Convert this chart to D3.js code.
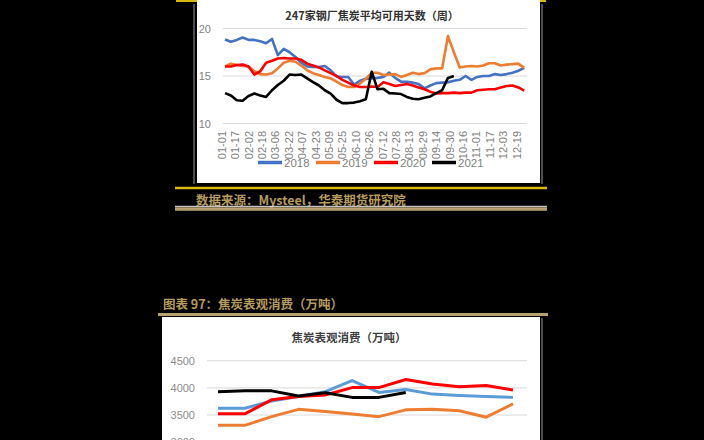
<!DOCTYPE html>
<html><head><meta charset="utf-8">
<script src="https://cdn.jsdelivr.net/npm/d3@7"></script>
<style>html,body{margin:0;padding:0;background:#000;overflow:hidden}svg{display:block}</style>
</head><body><svg id="c" width="704" height="440"></svg>
<script>
// ---------- data: chart 1 (weekly, 247 steel mills coke usable days) ----------
const tickLabels = ["01-01","01-17","02-02","02-18","03-06","03-22","04-07","04-23","05-09","05-25","06-10","06-26","07-12","07-28","08-13","08-29","09-14","09-30","10-16","11-01","11-17","12-03","12-19"];
const yTicks1 = [10, 15, 20];
const seriesNames = ["2018","2019","2020","2021"];
const days2018 = [18.85,18.6,18.8,19.05,18.8,18.8,18.65,18.45,18.9,17.2,17.85,17.5,17.0,16.4,16.0,15.95,15.95,16.05,15.6,14.95,14.9,14.9,14.1,14.5,14.7,14.75,14.8,14.9,15.35,14.8,14.4,14.4,14.3,14.15,13.7,14.0,14.25,14.3,14.35,14.5,14.6,15.0,14.6,14.9,15.0,15.0,15.2,15.1,15.2,15.35,15.55,15.85];
const days2019 = [16.0,16.3,16.15,16.05,16.0,15.5,15.2,15.15,15.3,15.8,16.4,16.6,16.5,16.1,15.6,15.3,15.1,14.9,14.75,14.4,14.05,13.85,13.85,14.2,14.7,15.35,15.35,15.1,15.15,15.2,14.9,15.1,15.35,15.2,15.3,15.7,15.8,15.8,19.2,17.5,15.9,16.0,16.05,16.0,16.1,16.35,16.35,16.1,16.2,16.25,16.3,15.85];
const days2020 = [16.0,16.0,16.15,16.2,16.0,15.15,15.5,16.4,16.6,16.85,16.9,16.85,16.85,16.7,16.3,16.1,15.9,15.6,15.3,15.0,14.6,14.3,14.0,13.85,13.85,13.9,13.85,14.35,14.15,13.95,14.05,14.15,14.0,13.8,13.6,13.35,13.15,13.2,13.2,13.25,13.2,13.25,13.25,13.5,13.55,13.6,13.6,13.8,13.95,14.0,13.8,13.45];
const days2021 = [13.2,12.95,12.45,12.4,12.9,13.15,12.95,12.8,13.5,14.05,14.5,15.15,15.1,15.15,14.75,14.35,14.0,13.5,13.15,12.5,12.15,12.15,12.2,12.35,12.55,15.45,13.6,13.65,13.2,13.15,13.1,12.8,12.6,12.55,12.7,12.85,13.2,13.5,14.8,15.0];

// ---------- data: chart 2 (monthly apparent coke consumption) ----------
const months = ["1月","2月","3月","4月","5月","6月","7月","8月","9月","10月","11月","12月"];
const yTicks2 = [3000, 3500, 4000, 4500];
const cons2018 = [3625,3625,3760,3840,3930,4135,3915,3970,3885,3860,3840,3825];
const cons2019 = [3310,3310,3470,3605,3565,3520,3470,3595,3605,3580,3460,3705];
const cons2020 = [3522,3522,3780,3840,3870,4005,4005,4155,4070,4020,4045,3960];
const cons2021 = [3930,3945,3945,3850,3910,3825,3825,3915];

const colors1 = ["#4472C4","#ED7D31","#FF0000","#000000"];
const colors2 = ["#5B9BD5","#ED7D31","#FF0000","#000000"];
const gold = "#b59a5c", goldBright = "#d9b80f", tan = "#b7a071";
const latin = "'Liberation Sans', Arial, sans-serif";
const cjk = "'Noto Sans CJK SC', sans-serif";

const svg = d3.select("#c");
svg.append("rect").attr("width",704).attr("height",440).attr("fill","#000");

// ================= Chart 1 =================
svg.append("line").attr("x1",176).attr("x2",546).attr("y1",1).attr("y2",1).attr("stroke",goldBright).attr("stroke-width",2);
svg.append("rect").attr("x",197).attr("y",0).attr("width",343).attr("height",183).attr("fill","#fff");
svg.append("line").attr("x1",194).attr("x2",194).attr("y1",4).attr("y2",184).attr("stroke","#9a9a9a").attr("stroke-width",1);
svg.append("line").attr("x1",542).attr("x2",542).attr("y1",4).attr("y2",184).attr("stroke","#9a9a9a").attr("stroke-width",1);

svg.append("text").attr("x",372).attr("y",15).attr("text-anchor","middle").attr("dominant-baseline","central")
  .attr("font-family",cjk).attr("font-weight","bold").attr("font-size",11).attr("fill","#333")
  .text("247家钢厂焦炭平均可用天数（周）");

const y1 = d3.scaleLinear().domain([10,20]).range([123.5,28.5]);
const parseMD = d3.timeParse("%m-%d");
const x1 = d3.scaleTime().domain([parseMD("01-01"), parseMD("12-19")]).range([221.7,516.7]);
const weekDate = i => d3.timeDay.offset(parseMD("01-01"), 4 + 7*i);

const g1 = svg.append("g");
g1.selectAll("line.grid").data(yTicks1).join("line").attr("class","grid")
  .attr("x1",223).attr("x2",527).attr("y1",d=>y1(d)).attr("y2",d=>y1(d))
  .attr("stroke","#d9d9d9").attr("stroke-width",1);
g1.selectAll("text.yl").data(yTicks1).join("text").attr("class","yl")
  .attr("x",211).attr("y",d=>y1(d)).attr("text-anchor","end").attr("dominant-baseline","central")
  .attr("font-family",latin).attr("font-size",11).attr("fill","#7f7f7f").text(d=>d);
g1.selectAll("text.xl").data(tickLabels).join("text").attr("class","xl")
  .attr("transform",d=>`translate(${x1(parseMD(d))},131) rotate(-90)`)
  .attr("text-anchor","end").attr("dominant-baseline","central")
  .attr("font-family",latin).attr("font-size",11).attr("fill","#7f7f7f").text(d=>d);

const line1 = d3.line().x((d,i)=>x1(weekDate(i))).y(d=>y1(d));
[days2018,days2019,days2020,days2021].forEach((s,k)=>{
  g1.append("path").datum(s).attr("d",line1).attr("fill","none")
    .attr("stroke",colors1[k]).attr("stroke-width",2.6).attr("stroke-linejoin","round");
});

// legend
const lg = g1.append("g");
seriesNames.forEach((n,k)=>{
  const lx = 258 + k*58;
  lg.append("line").attr("x1",lx).attr("x2",lx+24).attr("y1",162.5).attr("y2",162.5)
    .attr("stroke",colors1[k]).attr("stroke-width",3.5);
  lg.append("text").attr("x",lx+26).attr("y",162.5).attr("dominant-baseline","central")
    .attr("font-family",latin).attr("font-size",11.5).attr("fill","#7f7f7f").text(n);
});

// source block
svg.append("line").attr("x1",175).attr("x2",547).attr("y1",188).attr("y2",188).attr("stroke",goldBright).attr("stroke-width",2.4);
svg.append("text").attr("x",196).attr("y",199).attr("dominant-baseline","central")
  .attr("font-family",cjk).attr("font-weight","bold").attr("font-size",12.5).attr("fill",gold)
  .text("数据来源：Mysteel，华泰期货研究院");
svg.append("line").attr("x1",175).attr("x2",547).attr("y1",206.3).attr("y2",206.3).attr("stroke","#f2f2f2").attr("stroke-width",1);
svg.append("line").attr("x1",175).attr("x2",547).attr("y1",209).attr("y2",209).attr("stroke",tan).attr("stroke-width",3.4);

// ================= Chart 2 =================
svg.append("text").attr("x",163).attr("y",303).attr("dominant-baseline","central")
  .attr("font-family",cjk).attr("font-weight","bold").attr("font-size",12.5).attr("fill",gold)
  .text("图表 97：焦炭表观消费（万吨）");
svg.append("line").attr("x1",158).attr("x2",548).attr("y1",314.5).attr("y2",314.5).attr("stroke",tan).attr("stroke-width",3.2);
svg.append("rect").attr("x",162).attr("y",317).attr("width",378).attr("height",123).attr("fill","#fff");
svg.append("line").attr("x1",542).attr("x2",542).attr("y1",318).attr("y2",440).attr("stroke","#9a9a9a").attr("stroke-width",1);

svg.append("text").attr("x",349).attr("y",337).attr("text-anchor","middle").attr("dominant-baseline","central")
  .attr("font-family",cjk).attr("font-weight","bold").attr("font-size",11.5).attr("fill","#404040")
  .text("焦炭表观消费（万吨）");

const y2 = d3.scaleLinear().domain([3000,4500]).range([442.2,360.7]);
const x2 = d3.scalePoint().domain(months).range([218,513]);
const g2 = svg.append("g");
g2.selectAll("line.grid").data(yTicks2).join("line").attr("class","grid")
  .attr("x1",207).attr("x2",527).attr("y1",d=>y2(d)).attr("y2",d=>y2(d))
  .attr("stroke","#d9d9d9").attr("stroke-width",1);
g2.selectAll("text.yl").data(yTicks2).join("text").attr("class","yl")
  .attr("x",195).attr("y",d=>y2(d)).attr("text-anchor","end").attr("dominant-baseline","central")
  .attr("font-family",latin).attr("font-size",11).attr("fill","#8c8c8c").text(d=>d);

const line2 = d3.line().x((d,i)=>x2(months[i])).y(d=>y2(d));
[cons2018,cons2019,cons2020,cons2021].forEach((s,k)=>{
  g2.append("path").datum(s).attr("d",line2).attr("fill","none")
    .attr("stroke",colors2[k]).attr("stroke-width",3).attr("stroke-linejoin","round");
});
</script></body></html>
